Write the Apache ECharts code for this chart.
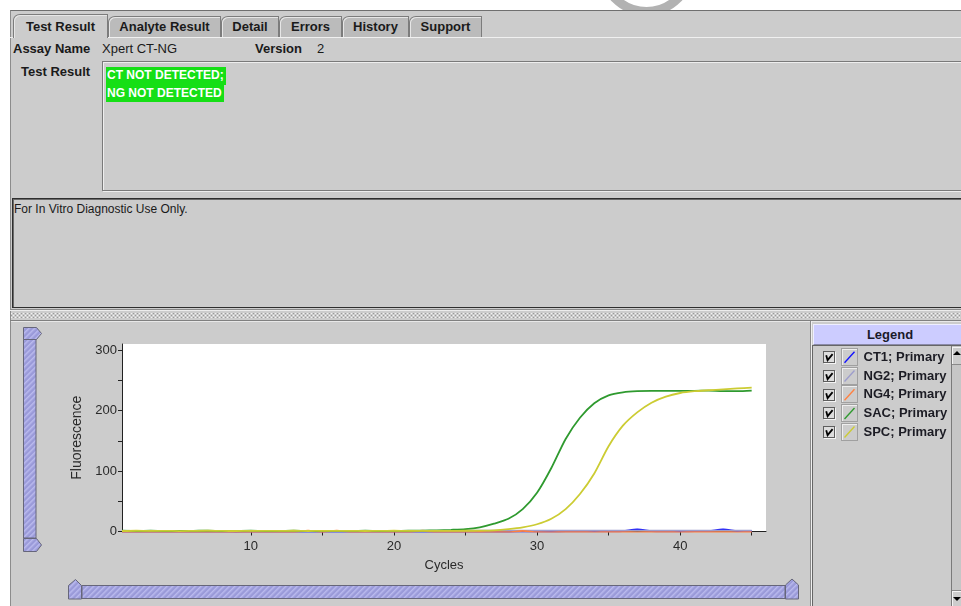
<!DOCTYPE html>
<html>
<head>
<meta charset="utf-8">
<title>Xpert CT-NG</title>
<script src="https://cdn.jsdelivr.net/npm/echarts@6.0.0/dist/echarts.min.js"></script>
<style>
html,body{margin:0;padding:0;width:961px;height:606px;overflow:hidden;background:#ffffff;font-family:'Liberation Sans',Arial,Helvetica,sans-serif;color:#1a1a1a;}
.a{position:absolute;box-sizing:border-box;}
#ring{left:598px;top:-81px;width:97px;height:97px;border:9px solid #b2b2b2;border-radius:50%;}
#panel{left:10px;top:10px;width:951px;height:596px;background:#cccccc;border-top:1px solid #6f6f6f;border-left:1px solid #8c8c8c;}
.tab{top:16px;height:21px;background:#bbbbbb;border:1px solid #7c7c7c;border-bottom:none;border-top-left-radius:7px 6px;font-weight:bold;font-size:13px;text-align:center;line-height:20px;box-shadow:inset 1px 1px 0 #e6e6e6;white-space:nowrap;}
.tab.sel{top:14px;height:24px;background:#cccccc;line-height:24px;z-index:2;}
.lbl{font-size:13px;line-height:15px;white-space:nowrap;}
.b{font-weight:bold;}
#resbox{left:102px;top:61px;width:880px;height:130px;border:1px solid #7a7a7a;box-shadow:1px 1px 0 #eeeeee, inset 1px 1px 0 #eeeeee;}
.hl{display:block;width:max-content;background:#16df16;color:#ffffff;font-weight:bold;font-size:12px;line-height:17.5px;padding:0 2px 0 1px;}
#disc{left:12px;top:198px;width:980px;height:110px;border:1px solid #2e2e2e;box-shadow:inset 1px 1px 0 #6a6a6a;}
.dots1{height:1px;background:repeating-linear-gradient(90deg,#f2f2f2 0 1px,#cccccc 1px 2px,#9a9a9a 2px 3px,#cccccc 3px 4px);}
.dots2{height:1px;background:repeating-linear-gradient(90deg,#9a9a9a 0 1px,#cccccc 1px 2px,#f2f2f2 2px 3px,#cccccc 3px 4px);}
#lhead{left:813px;top:324px;width:148px;height:21px;background:#ccccff;border-top:1px solid #eeeeff;border-left:1px solid #eeeeff;border-bottom:1px solid #8a8aa8;font-weight:bold;font-size:13px;line-height:19px;text-align:center;padding-left:5px;color:#1a1a2a;}
#lbox{left:812px;top:345px;width:150px;height:262px;border-left:1px solid #666666;border-top:1px solid #666666;}
#sbar{left:951px;top:346px;width:11px;height:261px;background:#c6c6c6;border-left:1px solid #7a7a7a;}
.sbtn{left:952px;width:10px;background:#cccccc;box-shadow:inset 1px 1px 0 #f4f4f4;border-bottom:1px solid #8a8a8a;}
.tri-up{width:0;height:0;border-left:4px solid transparent;border-right:4px solid transparent;border-bottom:4px solid #000;}
.tri-dn{width:0;height:0;border-left:4px solid transparent;border-right:4px solid transparent;border-top:4px solid #000;}
.cb{left:823px;width:12px;height:12px;background:#dddddd;border:1px solid #5e5e5e;box-shadow:1px 1px 0 #f4f4f4;}
.fr{left:841px;width:17px;height:18px;border:1px solid #a0a0a0;box-shadow:inset 1px 1px 0 #eeeeee;}
#chart{left:0;top:0;width:961px;height:606px;z-index:5;}
</style>
</head>
<body>
<div id="ring" class="a"></div>
<div id="panel" class="a"></div>

<!-- tabs -->
<div class="a" style="left:10px;top:37px;width:951px;height:1px;background:#f0f0f0;"></div>
<div class="a tab sel" style="left:13px;width:95px;">Test Result</div>
<div class="a tab" style="left:108px;width:113px;">Analyte Result</div>
<div class="a tab" style="left:221px;width:58px;">Detail</div>
<div class="a tab" style="left:279px;width:63px;">Errors</div>
<div class="a tab" style="left:342px;width:67px;">History</div>
<div class="a tab" style="left:409px;width:73px;">Support</div>

<div class="a lbl b" style="left:13px;top:41px;">Assay Name</div>
<div class="a lbl" style="left:102px;top:41px;">Xpert CT-NG</div>
<div class="a lbl b" style="left:255px;top:41px;">Version</div>
<div class="a lbl" style="left:317px;top:41px;">2</div>
<div class="a lbl b" style="left:21px;top:64px;">Test Result</div>

<div id="resbox" class="a"></div>
<div class="a" style="left:106px;top:67px;">
  <span class="hl">CT NOT DETECTED;</span>
  <span class="hl">NG NOT DETECTED</span>
</div>

<div id="disc" class="a"></div>
<div class="a" style="left:14px;top:202px;font-size:12px;line-height:15px;color:#1a1a1a;">For In Vitro Diagnostic Use Only.</div>

<div class="a" style="left:10px;top:309px;width:951px;height:1px;background:#8a8a8a;"></div>
<div class="a" style="left:10px;top:310px;width:951px;height:1px;background:#ececec;"></div>
<div class="a dots1" style="left:11px;top:313px;width:950px;"></div>
<div class="a dots2" style="left:11px;top:315px;width:950px;"></div>
<div class="a dots1" style="left:11px;top:317px;width:950px;"></div>
<div class="a" style="left:10px;top:320px;width:951px;height:1px;background:#808080;"></div>
<div class="a" style="left:11px;top:321px;width:950px;height:1px;background:#e8e8e8;"></div>

<!-- right legend panel -->
<div class="a" style="left:810px;top:321px;width:1px;height:285px;background:#8a8a8a;"></div>
<div class="a" style="left:811px;top:321px;width:1px;height:285px;background:#f0f0f0;"></div>
<div id="lhead" class="a">Legend</div>
<div id="lbox" class="a"></div>
<div id="sbar" class="a"></div>
<div class="a sbtn" style="top:347px;height:18px;"><div class="a tri-up" style="left:1px;top:4px;"></div></div>
<div class="a sbtn" style="top:590px;height:16px;border-bottom:none;border-top:1px solid #8a8a8a;"><div class="a tri-dn" style="left:1px;top:6px;"></div></div>
<div id="legchrome"></div>

<!-- sliders -->
<svg class="a" style="left:0;top:0;z-index:1;" width="961" height="606">
  <defs>
    <pattern id="hatch" width="4" height="4" patternUnits="userSpaceOnUse" patternTransform="rotate(45)">
      <rect width="4" height="4" fill="#9a9ad9"/>
      <rect width="1.5" height="4" fill="#babaee"/>
    </pattern>
  </defs>
  <g fill="url(#hatch)" stroke="#66667a" stroke-width="1">
    <rect x="23.5" y="339.5" width="12.5" height="198.5"/>
    <polygon points="23.5,327.5 36.5,327.5 41.5,333.5 36.5,339.5 23.5,339.5"/>
    <polygon points="23.5,538.5 36.5,538.5 41.5,545 36.5,551.5 23.5,551.5"/>
    <rect x="82" y="585.5" width="703" height="13"/>
    <polygon points="68.5,599 68.5,585.5 75.5,579.5 81.5,585.5 81.5,599"/>
    <polygon points="785.5,599 785.5,585 792,579 798.5,585 798.5,599"/>
  </g>
</svg>

<div id="chart" class="a"></div>

<script>
// ---- data ----
const cycles = [1,2,3,4,5,6,7,8,9,10,11,12,13,14,15,16,17,18,19,20,21,22,23,24,25,26,27,28,29,30,31,32,33,34,35,36,37,38,39,40,41,42,43,44,45];
const seriesNames = ['CT1; Primary','NG2; Primary','NG4; Primary','SAC; Primary','SPC; Primary'];
const seriesColors = ['#1010ff','#9d9dcc','#ff8040','#2f9a2f','#cccc33'];
const ct1 = [-0.4,-0.6,-0.5,-0.7,-0.5,-0.4,-0.6,-0.5,-0.8,-0.6,-0.5,-0.4,-0.6,-0.5,-0.7,-0.5,-0.4,-0.6,-0.5,-0.6,-0.5,-0.4,-0.6,-0.5,-0.7,-0.6,-0.5,-0.4,-0.3,-0.2,-0.1,0.1,0.2,0.3,0.4,0.8,3.4,0.8,0.4,0.4,0.5,0.8,3.4,0.8,0.5];
const ng2 = [0.2,0.3,0.1,0.2,0.4,0.2,0.1,0.3,0.2,0.1,0.3,0.2,0.4,0.2,0.3,0.5,0.3,0.2,0.4,0.6,0.8,0.9,1.0,1.1,1.2,1.3,1.4,1.4,1.5,1.5,1.4,1.5,1.5,1.4,1.5,1.5,1.6,1.5,1.5,1.6,1.5,1.5,1.6,1.5,1.5];
const ng4 = [-1.0,-1.1,-0.9,-1.2,-1.0,-1.1,-0.9,-1.0,-1.2,-1.0,-1.1,-0.9,-1.0,1.3,-0.9,1.3,-1.0,-1.1,-1.0,-1.0,-1.1,1.2,-1.2,-1.1,-1.0,-0.8,-1.0,-1.1,1.0,-1.2,-1.3,-1.2,-1.2,-1.3,-1.2,-1.2,-1.3,-1.2,-1.2,-1.3,-1.2,-1.2,-1.2,-1.3,-1.2];
const sac = [1.2,0.8,1.5,0.6,0.9,1.1,1.4,0.7,1.0,1.3,0.8,0.9,1.2,0.6,1.0,1.1,0.9,1.3,0.8,1.0,1.2,1.5,2.0,2.8,4,7,13,21,37,64,105,153,188,212,225,230,232,232.5,232.5,232.5,232.5,233,232,232,233];
const spc = [0.8,1.2,0.9,1.1,0.7,1.0,1.3,0.9,0.8,1.1,1.0,0.9,1.2,0.8,1.0,0.9,1.1,0.8,1.0,1.2,0.9,1.0,1.1,1.0,1.2,1.4,2,4,7,12,21,37,62,96,141,175,197,213,223,229,232,233.5,235,236.5,238];
const xTickValues = [10,15,20,25,30,35,40,45];
const xLabelValues = [10,20,30,40];
const yTickValues = [0,50,100,150,200,250,300];
const yLabelValues = [0,100,200,300];

// legend row centres
const rowStart = 357.3, rowStep = 18.7;

// ---- legend chrome (checkboxes and icon frames) ----
const lc = document.getElementById('legchrome');
seriesNames.forEach(function(n, i){
  const c = rowStart + i * rowStep;
  const cb = document.createElement('div');
  cb.className = 'a cb';
  cb.style.top = (c - 6) + 'px';
  cb.innerHTML = '<svg width="10" height="10" style="position:absolute;left:0;top:0"><path d="M2.2,3.2 L3.6,8.2 L8.6,2.2" fill="none" stroke="#000" stroke-width="1.8"/></svg>';
  lc.appendChild(cb);
  const fr = document.createElement('div');
  fr.className = 'a fr';
  fr.style.top = (c - 9.5) + 'px';
  lc.appendChild(fr);
});

// ---- chart ----
const allValues = [ct1, ng2, ng4, sac, spc];
const chart = echarts.init(document.getElementById('chart'), null, {renderer: 'canvas'});
const FONT = "'Liberation Sans', Arial, sans-serif";
chart.setOption({
  animation: false,
  backgroundColor: 'transparent',
  textStyle: {fontFamily: FONT},
  grid: {left: 122, top: 344, width: 644, height: 187.5, show: true, backgroundColor: '#ffffff', borderWidth: 0},
  xAxis: {
    type: 'value', min: 1, max: 46,
    name: 'Cycles', nameLocation: 'middle', nameGap: 27,
    nameTextStyle: {fontSize: 13, color: '#2a2a2a'},
    axisLine: {show: true, lineStyle: {color: '#222', width: 1}},
    axisTick: {show: true, length: 4, customValues: xTickValues, lineStyle: {color: '#222'}},
    axisLabel: {customValues: xLabelValues, fontSize: 13, color: '#2a2a2a', margin: 8},
    splitLine: {show: false}
  },
  yAxis: {
    type: 'value', min: 0, max: 310,
    name: 'Fluorescence', nameLocation: 'middle', nameGap: 37, nameRotate: 90,
    nameTextStyle: {fontSize: 14, color: '#2a2a2a'},
    axisLine: {show: true, onZero: false, lineStyle: {color: '#222', width: 1}},
    axisTick: {show: true, length: 4, customValues: yTickValues, lineStyle: {color: '#222'}},
    axisLabel: {customValues: yLabelValues, fontSize: 13, color: '#2a2a2a', margin: 5},
    splitLine: {show: false}
  },
  legend: seriesNames.map(function(name, i){
    return {
      orient: 'vertical', left: 844, top: rowStart + i * rowStep - 6.5,
      padding: 0,
      itemWidth: 12, itemHeight: 12,
      icon: 'path://M0,11 L10,0 L11,1 L1,12 Z',
      itemStyle: {borderWidth: 0},
      selectedMode: false,
      textStyle: {fontSize: 13, fontWeight: 'bold', color: '#1c1c24', padding: [0, 0, 0, 3]},
      data: [name]
    };
  }),
  series: seriesNames.map(function(name, i){
    return {
      name: name, type: 'line', symbol: 'none', smooth: 0.25,
      color: seriesColors[i],
      lineStyle: {width: 1.8, color: seriesColors[i]},
      data: cycles.map(function(c, k){ return [c, allValues[i][k]]; })
    };
  })
});
</script>
</body>
</html>
